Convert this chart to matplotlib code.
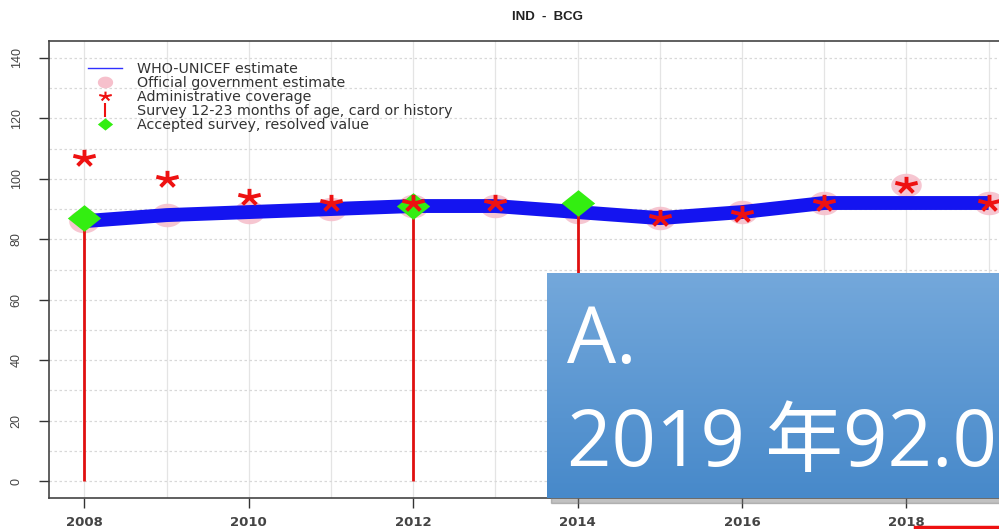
import numpy as np
import matplotlib
matplotlib.use("Agg")
import matplotlib.pyplot as plt
from matplotlib.lines import Line2D
from matplotlib.patches import Rectangle
from matplotlib.path import Path

plt.rcParams['font.family'] = ['Liberation Sans', 'DejaVu Sans']

years = [2008, 2009, 2010, 2011, 2012, 2013, 2014, 2015, 2016, 2017, 2018, 2019]
wuenic = [86, 88, 89, 90, 91, 91, 89, 87, 89, 92, 92, 92]
gov_years = [2008, 2009, 2010, 2011, 2012, 2013, 2014, 2015, 2016, 2017, 2018, 2019]
gov_values = [86, 88, 89, 90, 91, 91, 89, 87, 89, 92, 98, 92]
admin_years = [2008, 2009, 2010, 2011, 2012, 2013, 2015, 2016, 2017, 2018, 2019]
admin_values = [107, 100, 94, 92, 92, 92, 87, 88.5, 92, 98, 92]
survey_years = [2008, 2012, 2014]
survey_values = [87, 91, 92]
accepted_years = [2008, 2012, 2014]
accepted_values = [87, 91, 92]
yticks = [0, 20, 40, 60, 80, 100, 120, 140]
xticks = [2008, 2010, 2012, 2014, 2016, 2018]

W, H = 999, 529
fig = plt.figure(figsize=(W / 100, H / 100), dpi=100)
fig.patch.set_facecolor('white')

# stretched marker shapes (the source image is horizontally stretched)
th = np.linspace(0, 2 * np.pi, 60)
ellipse = Path(np.column_stack([1.3 * np.cos(th), np.sin(th)]), closed=True)
diamond = Path([(-1.25, 0), (0, 1), (1.25, 0), (0, -1), (-1.25, 0)], closed=True)
ang = np.pi / 2 + np.arange(5) * 2 * np.pi / 5
verts, codes = [], []
for a in ang:
    verts += [(0, 0), (1.35 * np.cos(a), np.sin(a))]
    codes += [Path.MOVETO, Path.LINETO]
aster = Path(verts, codes)

ax = fig.add_axes([49 / W, (H - 498) / H, (1024 - 49) / W, (498 - 41) / H])
ax.set_xlim(2007.57, 2019.43)
ax.set_ylim(-5.6, 145.6)

for yr in range(2008, 2020):
    ax.axvline(yr, color='#e4e4e4', lw=0.9, zorder=0)
for v in range(0, 150, 10):
    ax.axhline(v, color='#d8d8d8', lw=0.9, ls=(0, (2, 2)), zorder=0)

ax.plot(gov_years, gov_values, ls='', marker=ellipse, color='#f6c0cc', ms=22, alpha=0.9,
        zorder=2, markeredgewidth=0)
ax.plot(years, wuenic, '-', color='#1414f0', lw=10, zorder=3, solid_capstyle='butt')
ax.vlines(survey_years, 0, survey_values, color='#e01010', lw=2, zorder=4)
ax.plot(accepted_years, accepted_values, ls='', marker=diamond, color='#33ee11', ms=24,
        markeredgewidth=0, zorder=5)
ax.plot(admin_years, admin_values, ls='', marker=aster, color='#ee1111', ms=16,
        markeredgewidth=2.8, markerfacecolor='none', zorder=6)

ax.set_xticks(xticks)
ax.set_xticklabels([str(x) for x in xticks], fontsize=9.5, fontweight='bold', color='#444444',
                   family='DejaVu Sans')
ax.set_yticks(yticks)
ax.set_yticklabels([str(y) for y in yticks], fontsize=9, color='#444444', rotation=90,
                   va='center')
ax.tick_params(axis='both', length=7, width=1, color='#333333', direction='out')
ax.tick_params(axis='y', pad=12)
ax.tick_params(axis='x', pad=6)
for s in ax.spines.values():
    s.set_color('#444444')
    s.set_linewidth(1.2)

ax.set_title('IND  -  BCG', fontsize=9.5, fontweight='bold', color='#222222', pad=15,
             x=(548 - 49) / (1024 - 49))

handles = [
    Line2D([], [], color='#3030ff', lw=1),
    Line2D([], [], marker=ellipse, ls='', color='#f6c0cc', ms=11, markeredgewidth=0),
    Line2D([], [], marker=aster, ls='', color='#ee1111', ms=9, markeredgewidth=1.5,
           markerfacecolor='none'),
    Line2D([], [], marker='|', ls='', color='#ee1111', ms=10, markeredgewidth=1.5),
    Line2D([], [], marker=diamond, ls='', color='#33ee11', ms=11, markeredgewidth=0),
]
labels = ['WHO-UNICEF estimate', 'Official government estimate', 'Administrative coverage',
          'Survey 12-23 months of age, card or history', 'Accepted survey, resolved value']
leg = ax.legend(handles, labels, loc='upper left', bbox_to_anchor=(0.04, 0.955),
                frameon=False, prop={'family': 'DejaVu Sans', 'size': 10.3},
                handlelength=2.4, handletextpad=1.0,
                labelspacing=0.0, borderaxespad=0, borderpad=0)
for t in leg.get_texts():
    t.set_color('#333333')

# overlay box with shadow and gradient
bx0, by0, bx1, by1 = 547, 273, 1005, 498
shadow = Rectangle(((bx0 + 4) / W, (H - by1 - 5) / H), (bx1 - bx0) / W, (by1 - by0) / H,
                   transform=fig.transFigure, color='#777777', alpha=0.45, zorder=9)
fig.patches.append(shadow)
bax = fig.add_axes([bx0 / W, (H - by1) / H, (bx1 - bx0) / W, (by1 - by0) / H], zorder=10)
top = np.array([0x74, 0xa8, 0xdb]) / 255
bot = np.array([0x47, 0x89, 0xca]) / 255
tt = np.linspace(0, 1, 256)[:, None]
grad = top[None, :] * (1 - tt) + bot[None, :] * tt
bax.imshow(grad[:, None, :].repeat(2, axis=1), aspect='auto', extent=[0, 1, 0, 1])
bax.set_axis_off()
bax.text(20 / (bx1 - bx0), (by1 - 363) / (by1 - by0), 'A.', color='white', fontsize=56,
         family=['Open Sans', 'Noto Sans CJK SC'], va='baseline', ha='left')
bax.text(20 / (bx1 - bx0), (by1 - 466) / (by1 - by0), '2019 年92.0', color='white', fontsize=56,
         family=['Open Sans', 'Noto Sans CJK SC'], va='baseline', ha='left')

fig.add_artist(Line2D([915 / W, 1.0], [(H - 527) / H, (H - 527) / H], color='#ee1111', lw=2.5,
                      transform=fig.transFigure))

fig.savefig('out.png', dpi=100)
